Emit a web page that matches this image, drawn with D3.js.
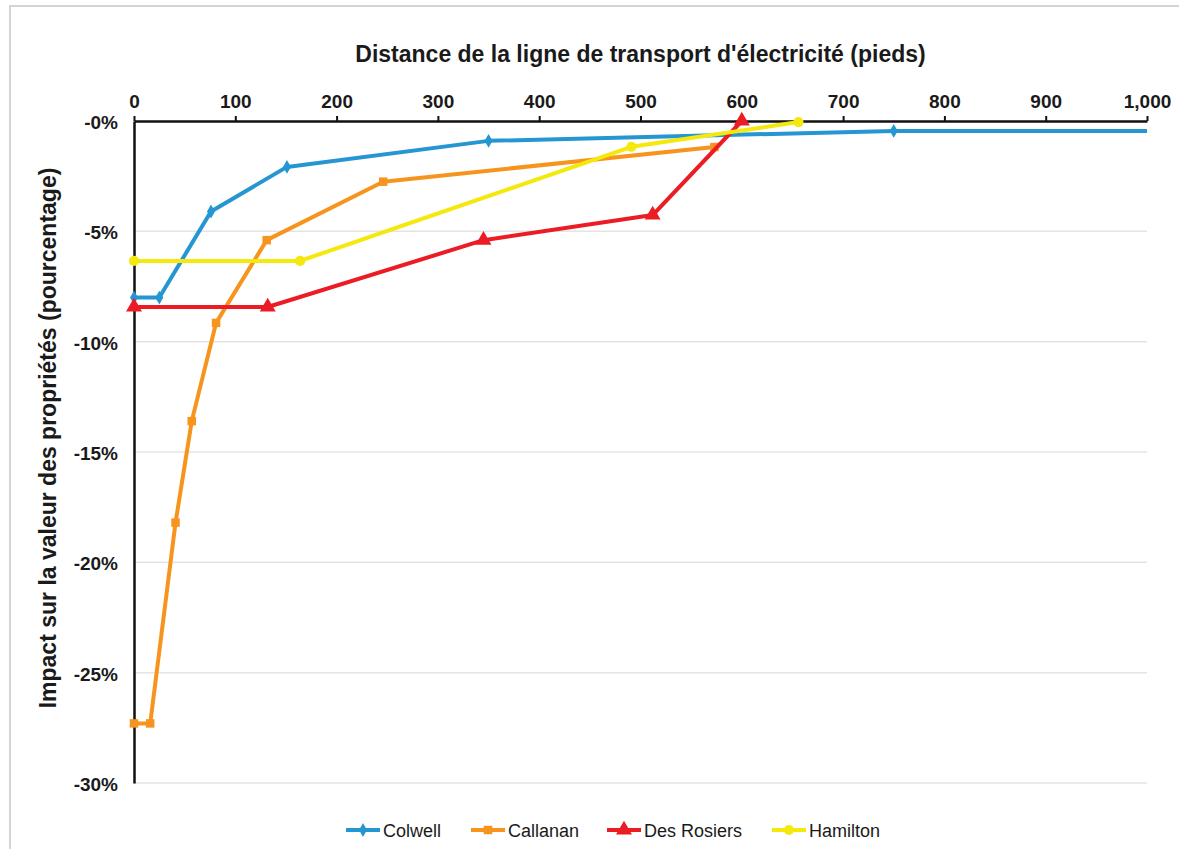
<!DOCTYPE html>
<html>
<head>
<meta charset="utf-8">
<script src="https://cdn.jsdelivr.net/npm/d3@7"></script>
<style>
  body { margin: 0; background: #fff; }
  text { font-family: "Liberation Sans", Arial, sans-serif; fill: #1a1a1a; }
  .tick-label { font-size: 19px; font-weight: bold; }
  .axis-title { font-size: 23px; font-weight: bold; }
  .legend-label { font-size: 18px; }
</style>
</head>
<body>
<div id="chart"></div>
<script>
// Distances (feet) and property value impact (%) per study
const seriesNames = ["Colwell", "Callanan", "Des Rosiers", "Hamilton"];
const colwellX = [0, 25, 76, 151, 350, 750, 1300];
const colwellY = [-8.0, -8.0, -4.1, -2.08, -0.9, -0.45, -0.45];
const callananX = [0, 16, 41, 57, 81, 131, 246, 573];
const callananY = [-27.3, -27.3, -18.2, -13.6, -9.15, -5.4, -2.75, -1.18];
const desRosiersX = [0, 132, 345, 512, 600];
const desRosiersY = [-8.43, -8.43, -5.4, -4.26, 0];
const hamiltonX = [0, 164, 491, 656];
const hamiltonY = [-6.34, -6.34, -1.17, -0.05];
const xTicks = [0, 100, 200, 300, 400, 500, 600, 700, 800, 900, 1000];
const yTicks = [0, -5, -10, -15, -20, -25, -30];

const colors = ["#2596d1", "#f7941e", "#ec1c24", "#f4e80c"];
const symbols = [d3.symbolDiamond, d3.symbolSquare, d3.symbolTriangle, d3.symbolCircle];
const symbolSizes = [55, 72, 110, 80];

const width = 1179, height = 849;
const margin = { top: 121, right: 32, bottom: 66, left: 134 };
const innerWidth = width - margin.left - margin.right;
const innerHeight = height - margin.top - margin.bottom;

const series = [
  { name: seriesNames[0], xs: colwellX, ys: colwellY },
  { name: seriesNames[1], xs: callananX, ys: callananY },
  { name: seriesNames[2], xs: desRosiersX, ys: desRosiersY },
  { name: seriesNames[3], xs: hamiltonX, ys: hamiltonY }
].map((s, i) => ({
  name: s.name,
  color: colors[i],
  symbol: symbols[i],
  size: symbolSizes[i],
  points: s.xs.map((x, j) => ({ x: x, y: s.ys[j] }))
}));

const svg = d3.select("#chart")
  .append("svg")
  .attr("width", width)
  .attr("height", height);

// outer frame (left and top edges show)
svg.append("rect")
  .attr("x", 10).attr("y", 6)
  .attr("width", 1180).attr("height", 860)
  .attr("fill", "none")
  .attr("stroke", "#d4d4d4")
  .attr("stroke-width", 2);

const xScale = d3.scaleLinear().domain([0, 1000]).range([0, innerWidth]);
const yScale = d3.scaleLinear().domain([-30, 0]).range([innerHeight, 0]);

const inner = svg.append("g")
  .attr("transform", `translate(${margin.left},${margin.top})`);

svg.append("defs").append("clipPath")
  .attr("id", "plot-clip")
  .append("rect")
  .attr("x", -40).attr("y", -30)
  .attr("width", innerWidth + 40).attr("height", innerHeight + 60);

// horizontal gridlines
inner.selectAll(".grid")
  .data(yTicks.filter(d => d !== 0))
  .join("line")
  .attr("class", "grid")
  .attr("x1", 0).attr("x2", innerWidth)
  .attr("y1", d => yScale(d)).attr("y2", d => yScale(d))
  .attr("stroke", "#e4e4e4")
  .attr("stroke-width", 1.5);

// y axis (no ticks)
const leftAxis = d3.axisLeft(yScale)
  .tickValues(yTicks)
  .tickSize(0)
  .tickPadding(16)
  .tickFormat(d => "-" + Math.abs(d) + "%");
const yAxisG = inner.append("g").call(leftAxis);
yAxisG.select(".domain").attr("stroke", "#111").attr("stroke-width", 2.5);
yAxisG.selectAll("text").attr("class", "tick-label").attr("dy", "0.4em");

// x axis on top
const topAxis = d3.axisTop(xScale)
  .tickValues(xTicks)
  .tickSize(5)
  .tickSizeOuter(0)
  .tickPadding(8)
  .tickFormat(d3.format(","));
const xAxisG = inner.append("g").call(topAxis);
xAxisG.select(".domain").attr("stroke", "#111").attr("stroke-width", 2.5);
xAxisG.selectAll(".tick line").attr("stroke", "#111").attr("stroke-width", 2);
xAxisG.selectAll("text").attr("class", "tick-label");

// lines
const line = d3.line().x(d => xScale(d.x)).y(d => yScale(d.y));

const seriesG = inner.append("g").attr("clip-path", "url(#plot-clip)");
series.forEach(s => {
  seriesG.append("path")
    .datum(s.points)
    .attr("d", line)
    .attr("fill", "none")
    .attr("stroke", s.color)
    .attr("stroke-width", 4)
    .attr("stroke-linejoin", "round");
  seriesG.selectAll(null)
    .data(s.points)
    .join("path")
    .attr("transform", d => `translate(${xScale(d.x)},${yScale(d.y)})`)
    .attr("d", d3.symbol().type(s.symbol).size(s.size))
    .attr("fill", s.color);
});

// axis titles
svg.append("text")
  .attr("class", "axis-title")
  .attr("x", margin.left + innerWidth / 2)
  .attr("y", 62)
  .attr("text-anchor", "middle")
  .text("Distance de la ligne de transport d'électricité (pieds)");

svg.append("text")
  .attr("class", "axis-title")
  .attr("transform", `translate(56,${margin.top + innerHeight / 2 - 14}) rotate(-90)`)
  .attr("text-anchor", "middle")
  .text("Impact sur la valeur des propriétés (pourcentage)");

// legend
const legendX = [346, 471, 607, 772];
const legend = svg.append("g").attr("transform", "translate(0,830)");
series.forEach((s, i) => {
  const g = legend.append("g").attr("transform", `translate(${legendX[i]},0)`);
  g.append("line")
    .attr("x1", 0).attr("x2", 34)
    .attr("stroke", s.color).attr("stroke-width", 4);
  g.append("path")
    .attr("transform", "translate(17,0)")
    .attr("d", d3.symbol().type(s.symbol).size(s.size))
    .attr("fill", s.color);
  g.append("text")
    .attr("class", "legend-label")
    .attr("x", 37)
    .attr("y", 6.5)
    .text(s.name);
});
</script>
</body>
</html>
